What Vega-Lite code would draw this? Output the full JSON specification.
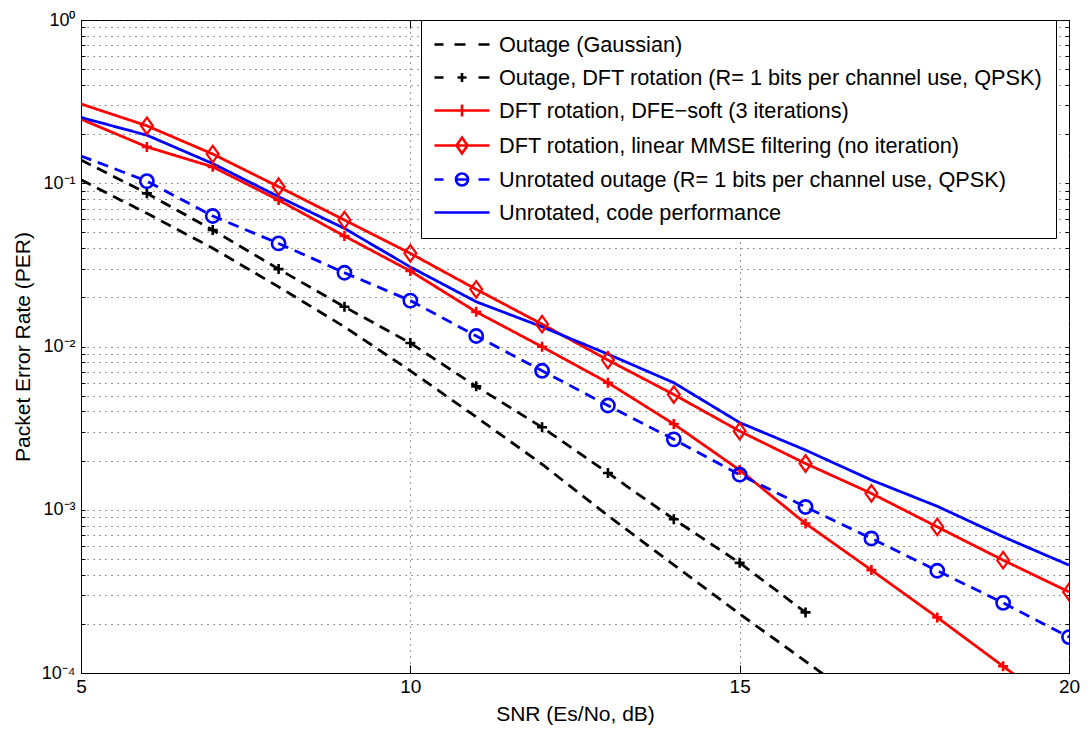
{
  "$schema": "https://vega.github.io/schema/vega-lite/v6.json",
  "width": 988,
  "height": 653,
  "autosize": {"type": "none"},
  "padding": {"left": 81, "top": 20, "right": 22, "bottom": 58},
  "background": "white",
  "config": {
    "font": "Liberation Sans",
    "view": {"stroke": "black", "strokeWidth": 1}
  },
  "datasets": {
    "curves": [
      {"snr": 5, "per": 0.105, "series": "Outage (Gaussian)"},
      {"snr": 6, "per": 0.0654, "series": "Outage (Gaussian)"},
      {"snr": 7, "per": 0.040, "series": "Outage (Gaussian)"},
      {"snr": 8, "per": 0.0232, "series": "Outage (Gaussian)"},
      {"snr": 9, "per": 0.0132, "series": "Outage (Gaussian)"},
      {"snr": 10, "per": 0.0071, "series": "Outage (Gaussian)"},
      {"snr": 11, "per": 0.0037, "series": "Outage (Gaussian)"},
      {"snr": 12, "per": 0.0019, "series": "Outage (Gaussian)"},
      {"snr": 13, "per": 0.00092, "series": "Outage (Gaussian)"},
      {"snr": 14, "per": 0.00046, "series": "Outage (Gaussian)"},
      {"snr": 15, "per": 0.00023, "series": "Outage (Gaussian)"},
      {"snr": 16, "per": 0.000118, "series": "Outage (Gaussian)"},
      {"snr": 17, "per": 0.00006, "series": "Outage (Gaussian)"},

      {"snr": 5, "per": 0.139, "series": "Outage, DFT rotation (R= 1 bits per channel use, QPSK)"},
      {"snr": 6, "per": 0.0867, "series": "Outage, DFT rotation (R= 1 bits per channel use, QPSK)"},
      {"snr": 7, "per": 0.0517, "series": "Outage, DFT rotation (R= 1 bits per channel use, QPSK)"},
      {"snr": 8, "per": 0.0298, "series": "Outage, DFT rotation (R= 1 bits per channel use, QPSK)"},
      {"snr": 9, "per": 0.0175, "series": "Outage, DFT rotation (R= 1 bits per channel use, QPSK)"},
      {"snr": 10, "per": 0.0105, "series": "Outage, DFT rotation (R= 1 bits per channel use, QPSK)"},
      {"snr": 11, "per": 0.0057, "series": "Outage, DFT rotation (R= 1 bits per channel use, QPSK)"},
      {"snr": 12, "per": 0.0032, "series": "Outage, DFT rotation (R= 1 bits per channel use, QPSK)"},
      {"snr": 13, "per": 0.00168, "series": "Outage, DFT rotation (R= 1 bits per channel use, QPSK)"},
      {"snr": 14, "per": 0.000875, "series": "Outage, DFT rotation (R= 1 bits per channel use, QPSK)"},
      {"snr": 15, "per": 0.000473, "series": "Outage, DFT rotation (R= 1 bits per channel use, QPSK)"},
      {"snr": 16, "per": 0.000235, "series": "Outage, DFT rotation (R= 1 bits per channel use, QPSK)"},

      {"snr": 5, "per": 0.247, "series": "DFT rotation, DFE−soft (3 iterations)"},
      {"snr": 6, "per": 0.167, "series": "DFT rotation, DFE−soft (3 iterations)"},
      {"snr": 7, "per": 0.126, "series": "DFT rotation, DFE−soft (3 iterations)"},
      {"snr": 8, "per": 0.0789, "series": "DFT rotation, DFE−soft (3 iterations)"},
      {"snr": 9, "per": 0.0475, "series": "DFT rotation, DFE−soft (3 iterations)"},
      {"snr": 10, "per": 0.029, "series": "DFT rotation, DFE−soft (3 iterations)"},
      {"snr": 11, "per": 0.0163, "series": "DFT rotation, DFE−soft (3 iterations)"},
      {"snr": 12, "per": 0.00996, "series": "DFT rotation, DFE−soft (3 iterations)"},
      {"snr": 13, "per": 0.0060, "series": "DFT rotation, DFE−soft (3 iterations)"},
      {"snr": 14, "per": 0.00335, "series": "DFT rotation, DFE−soft (3 iterations)"},
      {"snr": 15, "per": 0.00175, "series": "DFT rotation, DFE−soft (3 iterations)"},
      {"snr": 16, "per": 0.000824, "series": "DFT rotation, DFE−soft (3 iterations)"},
      {"snr": 17, "per": 0.000427, "series": "DFT rotation, DFE−soft (3 iterations)"},
      {"snr": 18, "per": 0.000219, "series": "DFT rotation, DFE−soft (3 iterations)"},
      {"snr": 19, "per": 0.000110, "series": "DFT rotation, DFE−soft (3 iterations)"},
      {"snr": 20, "per": 0.000055, "series": "DFT rotation, DFE−soft (3 iterations)"},

      {"snr": 5, "per": 0.306, "series": "DFT rotation, linear MMSE filtering (no iteration)"},
      {"snr": 6, "per": 0.225, "series": "DFT rotation, linear MMSE filtering (no iteration)"},
      {"snr": 7, "per": 0.151, "series": "DFT rotation, linear MMSE filtering (no iteration)"},
      {"snr": 8, "per": 0.0952, "series": "DFT rotation, linear MMSE filtering (no iteration)"},
      {"snr": 9, "per": 0.0595, "series": "DFT rotation, linear MMSE filtering (no iteration)"},
      {"snr": 10, "per": 0.0372, "series": "DFT rotation, linear MMSE filtering (no iteration)"},
      {"snr": 11, "per": 0.0224, "series": "DFT rotation, linear MMSE filtering (no iteration)"},
      {"snr": 12, "per": 0.0137, "series": "DFT rotation, linear MMSE filtering (no iteration)"},
      {"snr": 13, "per": 0.00826, "series": "DFT rotation, linear MMSE filtering (no iteration)"},
      {"snr": 14, "per": 0.00508, "series": "DFT rotation, linear MMSE filtering (no iteration)"},
      {"snr": 15, "per": 0.00303, "series": "DFT rotation, linear MMSE filtering (no iteration)"},
      {"snr": 16, "per": 0.00192, "series": "DFT rotation, linear MMSE filtering (no iteration)"},
      {"snr": 17, "per": 0.00126, "series": "DFT rotation, linear MMSE filtering (no iteration)"},
      {"snr": 18, "per": 0.000785, "series": "DFT rotation, linear MMSE filtering (no iteration)"},
      {"snr": 19, "per": 0.000491, "series": "DFT rotation, linear MMSE filtering (no iteration)"},
      {"snr": 20, "per": 0.000314, "series": "DFT rotation, linear MMSE filtering (no iteration)"},

      {"snr": 5, "per": 0.147, "series": "Unrotated outage (R= 1 bits per channel use, QPSK)"},
      {"snr": 6, "per": 0.103, "series": "Unrotated outage (R= 1 bits per channel use, QPSK)"},
      {"snr": 7, "per": 0.063, "series": "Unrotated outage (R= 1 bits per channel use, QPSK)"},
      {"snr": 8, "per": 0.0428, "series": "Unrotated outage (R= 1 bits per channel use, QPSK)"},
      {"snr": 9, "per": 0.0283, "series": "Unrotated outage (R= 1 bits per channel use, QPSK)"},
      {"snr": 10, "per": 0.0191, "series": "Unrotated outage (R= 1 bits per channel use, QPSK)"},
      {"snr": 11, "per": 0.0116, "series": "Unrotated outage (R= 1 bits per channel use, QPSK)"},
      {"snr": 12, "per": 0.0071, "series": "Unrotated outage (R= 1 bits per channel use, QPSK)"},
      {"snr": 13, "per": 0.00435, "series": "Unrotated outage (R= 1 bits per channel use, QPSK)"},
      {"snr": 14, "per": 0.0027, "series": "Unrotated outage (R= 1 bits per channel use, QPSK)"},
      {"snr": 15, "per": 0.00164, "series": "Unrotated outage (R= 1 bits per channel use, QPSK)"},
      {"snr": 16, "per": 0.00104, "series": "Unrotated outage (R= 1 bits per channel use, QPSK)"},
      {"snr": 17, "per": 0.000667, "series": "Unrotated outage (R= 1 bits per channel use, QPSK)"},
      {"snr": 18, "per": 0.000423, "series": "Unrotated outage (R= 1 bits per channel use, QPSK)"},
      {"snr": 19, "per": 0.000269, "series": "Unrotated outage (R= 1 bits per channel use, QPSK)"},
      {"snr": 20, "per": 0.000166, "series": "Unrotated outage (R= 1 bits per channel use, QPSK)"},

      {"snr": 5, "per": 0.253, "series": "Unrotated, code performance"},
      {"snr": 6, "per": 0.197, "series": "Unrotated, code performance"},
      {"snr": 7, "per": 0.132, "series": "Unrotated, code performance"},
      {"snr": 8, "per": 0.0827, "series": "Unrotated, code performance"},
      {"snr": 9, "per": 0.0529, "series": "Unrotated, code performance"},
      {"snr": 10, "per": 0.0307, "series": "Unrotated, code performance"},
      {"snr": 11, "per": 0.0188, "series": "Unrotated, code performance"},
      {"snr": 12, "per": 0.0132, "series": "Unrotated, code performance"},
      {"snr": 13, "per": 0.00898, "series": "Unrotated, code performance"},
      {"snr": 14, "per": 0.0060, "series": "Unrotated, code performance"},
      {"snr": 15, "per": 0.00342, "series": "Unrotated, code performance"},
      {"snr": 16, "per": 0.00232, "series": "Unrotated, code performance"},
      {"snr": 17, "per": 0.00152, "series": "Unrotated, code performance"},
      {"snr": 18, "per": 0.00105, "series": "Unrotated, code performance"},
      {"snr": 19, "per": 0.000683, "series": "Unrotated, code performance"},
      {"snr": 20, "per": 0.000458, "series": "Unrotated, code performance"}
    ]
  },
  "data": {"name": "curves"},
  "resolve": {"axis": {"x": "independent", "y": "independent"}},
  "encoding": {
    "x": {"field": "snr", "type": "quantitative", "scale": {"domain": [5, 20], "nice": false, "zero": false}, "axis": null},
    "y": {"field": "per", "type": "quantitative", "scale": {"type": "log", "domain": [0.0001, 1], "nice": false}, "axis": null}
  },
  "layer": [
    {
      "mark": {"type": "line", "strokeWidth": 2.8, "clip": true},
      "encoding": {
        "x": {
          "field": "snr", "type": "quantitative",
          "scale": {"domain": [5, 20], "nice": false, "zero": false},
          "axis": {
            "orient": "bottom",
            "values": [5, 10, 15, 20],
            "title": "SNR (Es/No, dB)",
            "titleFont": "Liberation Sans", "titleFontSize": 21, "titleFontWeight": "normal", "titleColor": "black", "titlePadding": 7,
            "labelFont": "Liberation Sans", "labelFontSize": 19, "labelColor": "black", "labelPadding": 12, "labelFlush": false,
            "grid": true, "gridDash": [1, 5], "gridColor": "#333333", "gridOpacity": 1, "gridWidth": 1,
            "tickColor": "black", "tickSize": -8, "tickWidth": 1,
            "domainColor": "black", "domainWidth": 1
          }
        },
        "y": {
          "field": "per", "type": "quantitative",
          "scale": {"type": "log", "domain": [0.0001, 1], "nice": false},
          "axis": {
            "orient": "left",
            "values": [0.0001, 0.0002, 0.0003, 0.0004, 0.0005, 0.0006, 0.0007, 0.0008, 0.0009, 0.001, 0.002, 0.003, 0.004, 0.005, 0.006, 0.007, 0.008, 0.009, 0.01, 0.02, 0.03, 0.04, 0.05, 0.06, 0.07, 0.08, 0.09, 0.1, 0.2, 0.3, 0.4, 0.5, 0.6, 0.7, 0.8, 0.9, 1],
            "labelExpr": "datum.value == 1 ? '10⁰' : datum.value == 0.1 ? '10⁻¹' : datum.value == 0.01 ? '10⁻²' : datum.value == 0.001 ? '10⁻³' : datum.value == 0.0001 ? '10⁻⁴' : ''",
            "labelOverlap": false,
            "title": "Packet Error Rate (PER)",
            "titleFont": "Liberation Sans", "titleFontSize": 21, "titleFontWeight": "normal", "titleColor": "black", "titlePadding": 8,
            "labelFont": "Liberation Sans", "labelFontSize": 18, "labelColor": "black", "labelPadding": 10,
            "grid": true, "gridDash": [1, 5], "gridColor": "#333333", "gridOpacity": 1, "gridWidth": 1,
            "tickColor": "black", "tickSize": -4, "tickWidth": 1,
            "domainColor": "black", "domainWidth": 1
          }
        },
        "stroke": {
          "field": "series", "type": "nominal", "legend": null,
          "scale": {
            "domain": ["Unrotated, code performance", "Unrotated outage (R= 1 bits per channel use, QPSK)", "DFT rotation, linear MMSE filtering (no iteration)", "DFT rotation, DFE−soft (3 iterations)", "Outage, DFT rotation (R= 1 bits per channel use, QPSK)", "Outage (Gaussian)"],
            "range": ["#0000ff", "#0000ff", "#ff0000", "#ff0000", "#000000", "#000000"]
          }
        },
        "strokeDash": {
          "field": "series", "type": "nominal", "legend": null,
          "scale": {
            "domain": ["Unrotated outage (R= 1 bits per channel use, QPSK)", "Unrotated, code performance", "DFT rotation, DFE−soft (3 iterations)", "DFT rotation, linear MMSE filtering (no iteration)", "Outage (Gaussian)", "Outage, DFT rotation (R= 1 bits per channel use, QPSK)"],
            "range": [[11, 7], [1, 0], [1, 0], [1, 0], [11, 7], [11, 7]]
          }
        }
      }
    },
    {
      "transform": [
        {"filter": "(datum.series == 'Outage, DFT rotation (R= 1 bits per channel use, QPSK)' || datum.series == 'DFT rotation, DFE−soft (3 iterations)') && datum.snr >= 6"}
      ],
      "mark": {"type": "point", "shape": "M-1,0H1M0,-1V1", "filled": false, "size": 100, "strokeWidth": 2.6, "opacity": 1, "clip": true},
      "encoding": {
        "x": {
          "field": "snr", "type": "quantitative",
          "scale": {"domain": [5, 20], "nice": false, "zero": false},
          "axis": {
            "orient": "top", "values": [5, 10, 15, 20], "labels": false, "title": null, "grid": false, "domain": false,
            "tickColor": "black", "tickSize": -8, "tickWidth": 1
          }
        },
        "y": {
          "field": "per", "type": "quantitative",
          "scale": {"type": "log", "domain": [0.0001, 1], "nice": false},
          "axis": {
            "orient": "right",
            "values": [0.0001, 0.0002, 0.0003, 0.0004, 0.0005, 0.0006, 0.0007, 0.0008, 0.0009, 0.001, 0.002, 0.003, 0.004, 0.005, 0.006, 0.007, 0.008, 0.009, 0.01, 0.02, 0.03, 0.04, 0.05, 0.06, 0.07, 0.08, 0.09, 0.1, 0.2, 0.3, 0.4, 0.5, 0.6, 0.7, 0.8, 0.9, 1],
            "labels": false, "title": null, "grid": false, "domain": false,
            "tickColor": "black", "tickSize": -4, "tickWidth": 1
          }
        },
        "stroke": {"field": "series", "type": "nominal", "legend": null}
      }
    },
    {
      "transform": [
        {"filter": "datum.series == 'DFT rotation, linear MMSE filtering (no iteration)' && datum.snr >= 6"}
      ],
      "mark": {"type": "point", "shape": "M0,-1L0.72,0L0,1L-0.72,0Z", "filled": false, "size": 272, "strokeWidth": 2.2, "color": "#ff0000", "opacity": 1, "clip": true}
    },
    {
      "transform": [
        {"filter": "datum.series == 'Unrotated outage (R= 1 bits per channel use, QPSK)' && datum.snr >= 6"}
      ],
      "mark": {"type": "point", "shape": "circle", "filled": false, "size": 175, "strokeWidth": 2.6, "color": "#0000ff", "opacity": 1, "clip": true}
    },
    {
      "mark": {"type": "point", "filled": false, "strokeOpacity": 0, "fillOpacity": 0, "clip": true},
      "encoding": {
        "color": {
          "field": "series", "type": "nominal",
          "scale": {
            "domain": ["Outage (Gaussian)", "Outage, DFT rotation (R= 1 bits per channel use, QPSK)", "DFT rotation, DFE−soft (3 iterations)", "DFT rotation, linear MMSE filtering (no iteration)", "Unrotated outage (R= 1 bits per channel use, QPSK)", "Unrotated, code performance"],
            "range": ["#000000", "#000000", "#ff0000", "#ff0000", "#0000ff", "#0000ff"]
          },
          "legend": {
            "title": null, "orient": "none", "legendX": 340, "legendY": 0,
            "padding": 13, "fillColor": "white", "strokeColor": "black",
            "labelFont": "Liberation Sans", "labelFontSize": 21.7, "labelColor": "black", "labelLimit": 900, "labelOffset": 42,
            "labelExpr": "datum.label + '\u00a0\u00a0'",
            "symbolSize": 400, "symbolStrokeWidth": 2.6, "symbolOpacity": 1, "symbolOffset": 0,
            "rowPadding": 9,
            "encode": {"symbols": {"update": {"fill": {"value": "transparent"}, "strokeOpacity": {"value": 1}, "opacity": {"value": 1}}}}
          }
        },
        "shape": {
          "field": "series", "type": "nominal",
          "scale": {
            "domain": ["Outage (Gaussian)", "Outage, DFT rotation (R= 1 bits per channel use, QPSK)", "DFT rotation, DFE−soft (3 iterations)", "DFT rotation, linear MMSE filtering (no iteration)", "Unrotated outage (R= 1 bits per channel use, QPSK)", "Unrotated, code performance"],
            "range": [
              "M-1.1,0H-0.2M0.9,0H2M3.3,0H4.4",
              "M-1.1,0H-0.2M3.3,0H4.4M1.2,0H2.1M1.65,-0.45V0.45",
              "M-1.1,0H4.4M1.65,-0.6V0.6",
              "M-1.1,0H4.4M1.65,-0.8L2.2,0L1.65,0.8L1.1,0Z",
              "M-1.1,0H-0.2M3.3,0H4.4M2.25,0A0.6,0.6,0,1,1,1.05,0A0.6,0.6,0,1,1,2.25,0M1.05,0H2.25",
              "M-1.1,0H4.4"
            ]
          },
          "legend": {
            "title": null, "orient": "none", "legendX": 340, "legendY": 0,
            "padding": 13, "fillColor": "white", "strokeColor": "black",
            "labelFont": "Liberation Sans", "labelFontSize": 21.7, "labelColor": "black", "labelLimit": 900, "labelOffset": 42,
            "labelExpr": "datum.label + '\u00a0\u00a0'",
            "symbolSize": 400, "symbolStrokeWidth": 2.6, "symbolOpacity": 1, "symbolOffset": 0,
            "rowPadding": 9,
            "encode": {"symbols": {"update": {"fill": {"value": "transparent"}, "strokeOpacity": {"value": 1}, "opacity": {"value": 1}}}}
          }
        }
      }
    }
  ]
}
